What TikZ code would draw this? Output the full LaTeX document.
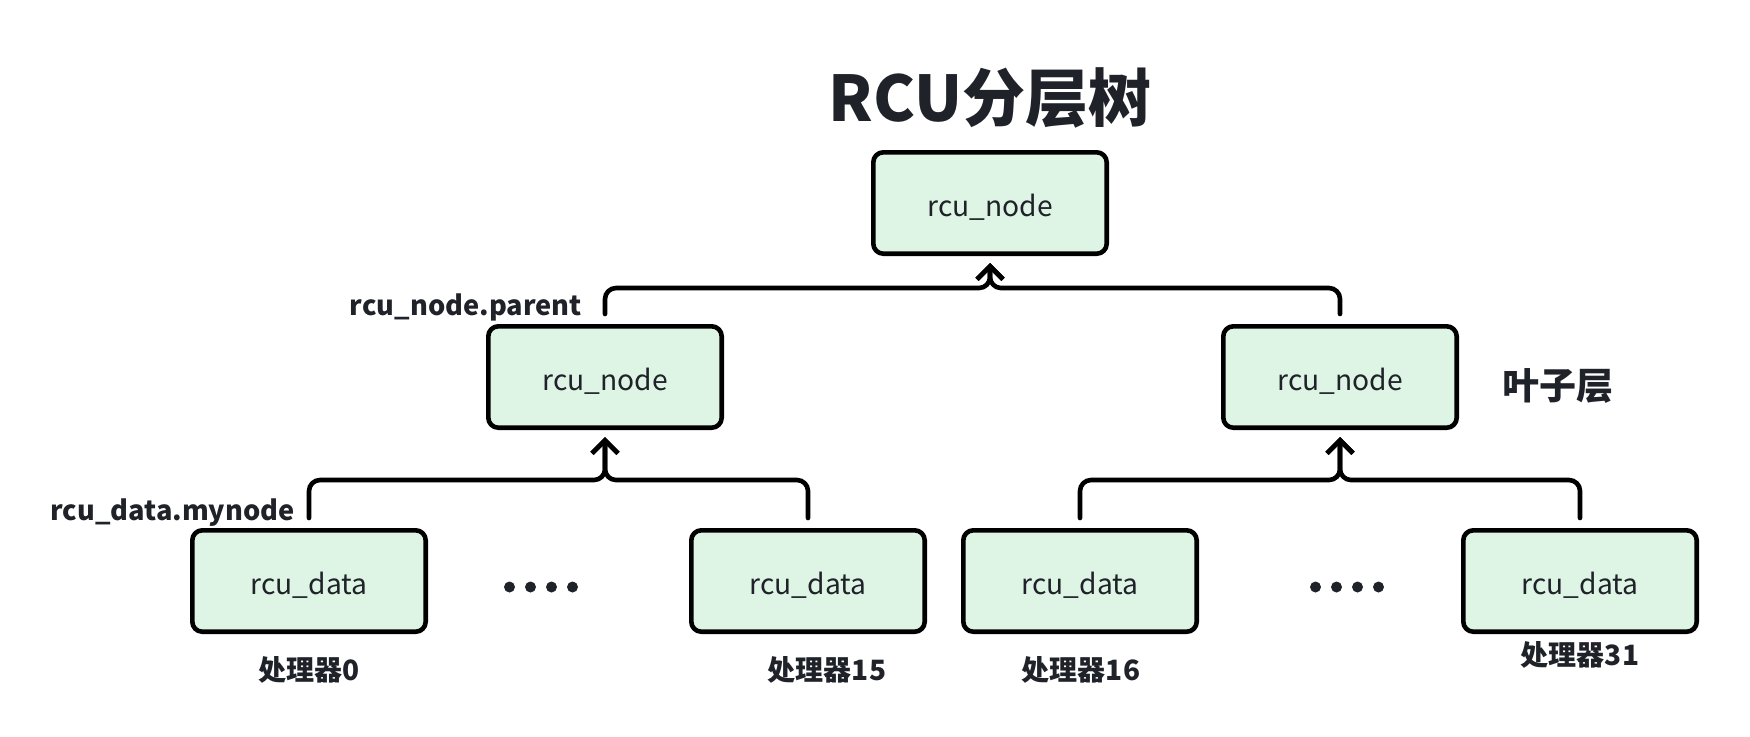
\documentclass[tikz,border=0pt]{standalone}
\usepackage{fontspec}
\setmainfont{Noto Sans CJK SC}
\usetikzlibrary{arrows.meta}
\definecolor{nodefill}{HTML}{DEF5E5}
\definecolor{textgray}{HTML}{1F2329}

\begin{document}
\begin{tikzpicture}[x=0.5pt,y=-0.5pt,>={Straight Barb[length=6.5pt,width=13pt]},line join=round,
  rcubox/.style={draw=black,fill=nodefill,line width=2.3pt,rounded corners=5pt,minimum width=116.7pt,minimum height=50.7pt,inner sep=0pt,text height=13pt,text depth=0pt,text=textgray,font=\fontsize{14.1}{17}\selectfont},
  tag/.style={text=textgray,font=\bfseries\fontsize{13.6}{16}\selectfont,inner sep=0pt},
  cpu/.style={text=textgray,font=\bfseries\fontsize{14}{17}\selectfont,inner sep=0pt},
  link/.style={black,line width=2.3pt,rounded corners=5.5pt,line cap=round,->}]
\useasboundingbox (0,0) rectangle (1750,736);
%%
\node (title) at (990,98) [text=textgray,font=\bfseries\fontsize{31.5}{38}\selectfont] {RCU分层树};
  \node (node_0) at (990,203) [rcubox] {rcu\_node};
  \node (node_1) at (605,377) [rcubox] {rcu\_node};
  \node (node_2) at (1340,377) [rcubox] {rcu\_node};
  \node (data_0) at (309,581) [rcubox] {rcu\_data};
  \node (data_15) at (808,581) [rcubox] {rcu\_data};
  \node (data_16) at (1080,581) [rcubox] {rcu\_data};
  \node (data_31) at (1580,581) [rcubox] {rcu\_data};
  \node (lbl_parent) at (582,315) [tag,anchor=base east] {rcu\_node.parent};
  \node (lbl_mynode) at (295,520) [tag,anchor=base east] {rcu\_data.mynode};
  \node (lbl_leaf) at (1558,386) [tag,font=\bfseries\fontsize{18.5}{22}\selectfont] {叶子层};
  \node (cpu_0) at (309,670) [cpu] {处理器0};
  \node (cpu_15) at (827,670) [cpu] {处理器15};
  \node (cpu_16) at (1081,670) [cpu] {处理器16};
  \node (cpu_31) at (1580,655) [cpu] {处理器31};
  \coordinate (join_0) at (990,288);
  \coordinate (join_1) at (605,480);
  \coordinate (join_2) at (1340,480);
  \draw [link] ([yshift=5pt]node_1.north) |- (join_0) -- ([yshift=-3.5pt]node_0.south);
  \draw [link] ([yshift=5pt]node_2.north) |- (join_0) -- ([yshift=-3.5pt]node_0.south);
  \draw [link] ([yshift=5pt]data_0.north) |- (join_1) -- ([yshift=-3.5pt]node_1.south);
  \draw [link] ([yshift=5pt]data_15.north) |- (join_1) -- ([yshift=-3.5pt]node_1.south);
  \draw [link] ([yshift=5pt]data_16.north) |- (join_2) -- ([yshift=-3.5pt]node_2.south);
  \draw [link] ([yshift=5pt]data_31.north) |- (join_2) -- ([yshift=-3.5pt]node_2.south);
  \foreach \x in {509.5,530.5,551.5,572.5} \fill [textgray] (\x,587) circle (2.75pt);
  \foreach \x in {1315.5,1336.5,1357.5,1378.5} \fill [textgray] (\x,587) circle (2.75pt);
%
\end{tikzpicture}
\end{document}
